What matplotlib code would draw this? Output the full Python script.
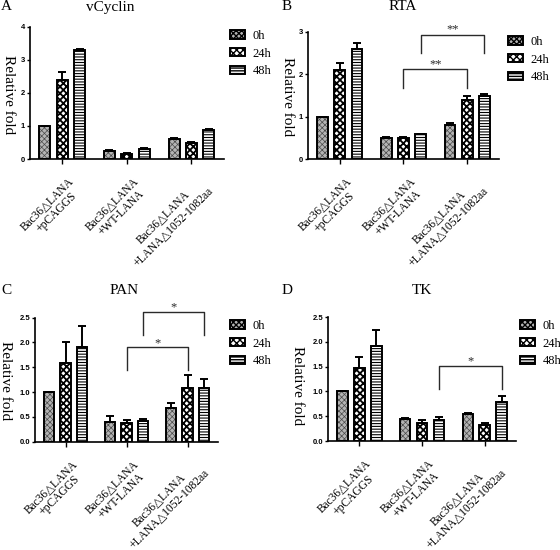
import matplotlib
matplotlib.use("Agg")
import matplotlib.pyplot as plt
import numpy as np
from matplotlib.patches import Patch
from matplotlib.transforms import ScaledTranslation

SERIF = ['Liberation Serif', 'DejaVu Serif']
SANS = 'Liberation Sans'

groups = ["Bac36\u25b3LANA\n+pCAGGS", "Bac36\u25b3LANA\n+WT-LANA", "Bac36\u25b3LANA\n+LANA\u25b31052-1082aa"]
series = ["0h", "24h", "48h"]

# vCyclin
vcyc_vals = [[1.00, 0.25, 0.62], [2.39, 0.15, 0.49], [3.29, 0.31, 0.88]]
vcyc_err = [[0.00, 0.02, 0.03], [0.24, 0.02, 0.03], [0.05, 0.02, 0.03]]
# RTA
rta_vals = [[1.00, 0.49, 0.80], [2.10, 0.49, 1.39], [2.60, 0.58, 1.49]]
rta_err = [[0.00, 0.03, 0.04], [0.17, 0.02, 0.09], [0.13, 0.01, 0.03]]
# PAN
pan_vals = [[1.00, 0.39, 0.67], [1.59, 0.38, 1.08], [1.90, 0.42, 1.08]]
pan_err = [[0.00, 0.12, 0.11], [0.42, 0.05, 0.26], [0.44, 0.04, 0.19]]
# TK
tk_vals = [[1.00, 0.44, 0.54], [1.48, 0.36, 0.32], [1.92, 0.42, 0.79]]
tk_err = [[0.00, 0.03, 0.02], [0.22, 0.07, 0.05], [0.32, 0.07, 0.11]]

# significance brackets: (series index, group a, group b, leg bottom, bracket top, star y, label)
rta_sig = [(1, 1, 2, 1.68, 2.11, 2.24, "**"), (2, 1, 2, 2.49, 2.92, 3.05, "**")]
pan_sig = [(1, 1, 2, 1.44, 1.90, 1.99, "*"), (2, 1, 2, 2.16, 2.62, 2.71, "*")]
tk_sig = [(2, 1, 2, 1.06, 1.51, 1.60, "*")]

fig = plt.figure(figsize=(5.6, 5.5), dpi=100)

offsets = [-0.27, 0.0, 0.27]
width = 0.17
styles = [
    dict(facecolor='#b4b4b4', hatch='xxxxxx', hcol='#4a4a4a', hlw=0.5),
    dict(facecolor='white', hatch='xxxxx', hcol='black', hlw=1.3),
    dict(facecolor='white', hatch='------', hcol='black', hlw=0.8),
]


def hatched_bar(ax, x, h, st):
    bars = ax.bar(x, h, width, facecolor=st['facecolor'], edgecolor=st['hcol'],
                  hatch=st['hatch'], linewidth=0, zorder=2)
    for b in bars:
        if hasattr(b, 'set_hatch_linewidth'):
            b.set_hatch_linewidth(st['hlw'])
    ax.bar(x, h, width, fill=False, edgecolor='black', linewidth=1.4, zorder=3)


def panel(rect, vals, errs, ymax, yticks, ylabels, title, letter, title_xy, letter_xy,
          ylab_xy, leg_xy, sig=()):
    ax = fig.add_axes(rect)
    x = np.arange(len(groups))
    for i in range(3):
        xi = x + offsets[i]
        hatched_bar(ax, xi, vals[i], styles[i])
        ax.errorbar(xi, vals[i], yerr=[np.zeros(3), errs[i]], fmt='none', ecolor='black',
                    elinewidth=1.4, capsize=2.6, capthick=1.4, zorder=4)
    ax.set_xlim(-0.5, 2.5)
    ax.set_ylim(0, ymax)
    ax.set_yticks(yticks)
    ax.set_yticklabels(ylabels, fontfamily=SANS, fontweight='bold', fontsize=5.5)
    ax.set_xticks(x)
    ax.set_xticklabels([])
    off = ScaledTranslation(4 / 72, -11.5 / 72, fig.dpi_scale_trans)
    for xi, g in zip(x, groups):
        ax.text(xi, 0, g, transform=ax.get_xaxis_transform() + off, rotation=45,
                ha='right', va='top', rotation_mode='anchor', multialignment='center',
                family=SERIF, fontsize=8.3, linespacing=1.1)
    for s in ['top', 'right']:
        ax.spines[s].set_visible(False)
    for s in ['left', 'bottom']:
        ax.spines[s].set_linewidth(1.2)
    ax.tick_params(axis='y', direction='out', length=2.5, width=1.0, pad=1)
    ax.tick_params(axis='x', direction='out', length=3.5, width=1.0)
    for (si, ga, gb, yb, yt, ys, lab) in sig:
        xa = ga + offsets[si]
        xb = gb + offsets[si]
        ax.plot([xa, xa, xb, xb], [yb, yt, yt, yb], color='#2a2a2a', linewidth=1.0,
                clip_on=False, zorder=5)
        ax.text((xa + xb) / 2, ys, lab, ha='center', va='center', fontsize=9,
                family=SERIF, color='#2a2a2a', clip_on=False)
    fig.text(title_xy[0] / 560, 1 - title_xy[1] / 550, title, ha='center', va='center',
             family=SERIF, fontsize=11)
    fig.text(letter_xy[0] / 560, 1 - letter_xy[1] / 550, letter, ha='left', va='center',
             family=SERIF, fontsize=11)
    fig.text(ylab_xy[0] / 560, 1 - ylab_xy[1] / 550, "Relative fold", ha='center',
             va='center', rotation=270, family=SERIF, fontsize=11)
    handles = [Patch(facecolor=styles[i]['facecolor'], edgecolor='black', hatch=styles[i]['hatch'],
                     linewidth=1.4) for i in range(3)]
    ax.legend(handles, series, loc='upper left', bbox_to_anchor=(leg_xy[0] / 560, 1 - leg_xy[1] / 550),
              bbox_transform=fig.transFigure, frameon=False, prop={'family': SERIF, 'size': 9},
              handlelength=1.2, handleheight=0.65, labelspacing=0.45, handletextpad=0.6,
              borderpad=0, borderaxespad=0)
    return ax


panel([0.0536, 0.7109, 0.346, 0.2405], vcyc_vals, vcyc_err, 4, [0, 1, 2, 3, 4],
      ["0", "1", "2", "3", "4"], "vCyclin", "A", (110, 7), (1, 7), (8, 95), (230, 30))
panel([0.55, 0.7109, 0.341, 0.2315], rta_vals, rta_err, 3, [0, 1, 2, 3],
      ["0", "1", "2", "3"], "RTA", "B", (403, 7), (282, 7), (288, 97), (508, 36), rta_sig)
panel([0.0625, 0.1969, 0.327, 0.2255], pan_vals, pan_err, 2.5, [0, 0.5, 1.0, 1.5, 2.0, 2.5],
      ["0.0", "0.5", "1.0", "1.5", "2.0", "2.5"], "PAN", "C", (124, 290), (1, 290), (5, 381),
      (230, 320), pan_sig)
panel([0.5857, 0.198, 0.336, 0.2255], tk_vals, tk_err, 2.5, [0, 0.5, 1.0, 1.5, 2.0, 2.5],
      ["0.0", "0.5", "1.0", "1.5", "2.0", "2.5"], "TK", "D", (422, 290), (282, 290), (298, 386),
      (520, 320), tk_sig)

fig.savefig("out.png", dpi=100)
